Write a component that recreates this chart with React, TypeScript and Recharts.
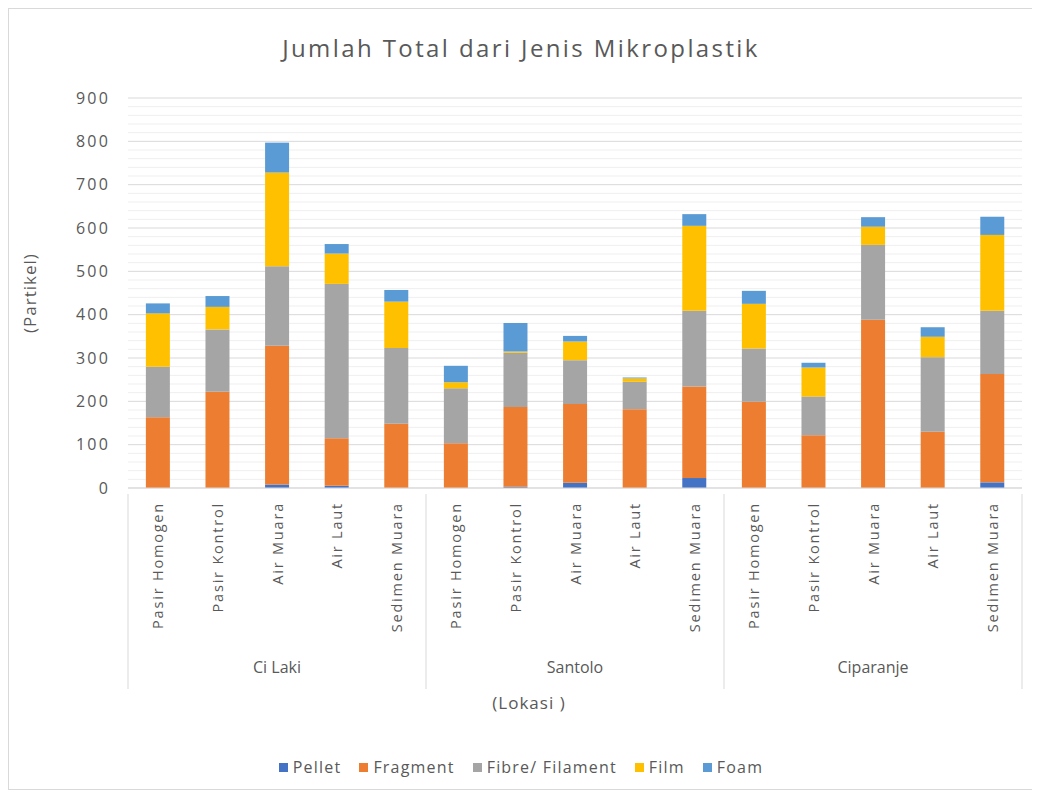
import React from "react";
import { BarChart, Bar, XAxis, YAxis, CartesianGrid } from "recharts";

const groups = ["Ci Laki", "Santolo", "Ciparanje"];
const sites = ["Pasir Homogen", "Pasir Kontrol", "Air Muara", "Air Laut", "Sedimen Muara"];

const pellet = [0, 0, 8, 5, 0, 0, 3, 12, 0, 23, 0, 0, 0, 0, 13];
const fragment = [163, 222, 320, 110, 148, 103, 184, 182, 182, 211, 199, 122, 388, 130, 250];
const fibre = [117, 144, 184, 356, 175, 127, 125, 101, 63, 175, 123, 89, 173, 172, 146];
const film = [123, 52, 216, 70, 107, 14, 3, 43, 8, 196, 103, 67, 42, 47, 175];
const foam = [23, 25, 69, 22, 27, 38, 66, 13, 2, 27, 30, 11, 22, 22, 42];

const yTicks = [0, 100, 200, 300, 400, 500, 600, 700, 800, 900];
const minorLines = [20, 40, 60, 80, 120, 140, 160, 180, 220, 240, 260, 280, 320, 340, 360, 380, 420, 440, 460, 480, 520, 540, 560, 580, 620, 640, 660, 680, 720, 740, 760, 780, 820, 840, 860, 880];

const seriesNames = ["Pellet", "Fragment", "Fibre/ Filament", "Film", "Foam"];
const seriesKeys = ["pellet", "fragment", "fibre", "film", "foam"];
const seriesColors = ["#4472C4", "#ED7D31", "#A5A5A5", "#FFC000", "#5B9BD5"];

const data = groups.flatMap((g, gi) =>
  sites.map((s, si) => {
    const i = gi * sites.length + si;
    return {
      key: `${g}|${s}`,
      site: s,
      group: g,
      pellet: pellet[i],
      fragment: fragment[i],
      fibre: fibre[i],
      film: film[i],
      foam: foam[i],
    };
  })
);

const W = 1024;
const H = 780;
const M = { top: 89, right: 11, left: 0, bottom: 101 };
const Y_W = 119;
const band = (W - M.left - M.right - Y_W) / data.length;
const FONT = "'Open Sans', sans-serif";
const TXT = "#595959";

const XTick = (props: any) => {
  const { x, y, payload, index } = props;
  const row = data[index] || data.find((d) => d.key === payload.value);
  const label = row ? row.site : "";
  return (
    <g>
      <text
        x={x}
        y={y + 8}
        transform={`rotate(-90 ${x} ${y + 8})`}
        textAnchor="end"
        dominantBaseline="central"
        fill={TXT}
        fontSize={14.5}
        letterSpacing={1.8}
        fontFamily={FONT}
      >
        {label}
      </text>
      {index % 5 === 0 && (
        <line x1={x - band / 2} x2={x - band / 2} y1={y} y2={y + 195} stroke="#D9D9D9" strokeWidth={1} />
      )}
      {index === data.length - 1 && (
        <line x1={x + band / 2} x2={x + band / 2} y1={y} y2={y + 195} stroke="#D9D9D9" strokeWidth={1} />
      )}
      {index % 5 === 2 && row && (
        <text x={x} y={y + 173} textAnchor="middle" dominantBaseline="central" fill={TXT} fontSize={16} fontFamily={FONT}>
          {row.group}
        </text>
      )}
    </g>
  );
};

export default function App() {
  return (
    <div
      style={{
        position: "relative",
        width: W,
        height: H,
        border: "1px solid #D9D9D9",
        background: "#fff",
        fontFamily: FONT,
        color: TXT,
      }}
    >
      <div
        style={{
          position: "absolute",
          top: 22,
          left: 0,
          width: W,
          textAlign: "center",
          fontSize: 24,
          letterSpacing: 2.4,
          color: TXT,
        }}
      >
        Jumlah Total dari Jenis Mikroplastik
      </div>
      <BarChart width={W} height={H} data={data} margin={M} barCategoryGap="30%">
        <CartesianGrid horizontalValues={minorLines} vertical={false} stroke="#EFEFEF" />
        <CartesianGrid horizontalValues={yTicks} vertical={false} stroke="#D9D9D9" />
        <YAxis
          width={Y_W}
          domain={[0, 900]}
          ticks={yTicks}
          axisLine={false}
          tickLine={false}
          tickMargin={12}
          tick={{ fill: TXT, fontSize: 16, fontFamily: FONT, letterSpacing: 2.2 }}
          interval={0}
        />
        <XAxis
          dataKey="key"
          interval={0}
          height={200}
          tickLine={false}
          tickMargin={0}
          axisLine={{ stroke: "#D9D9D9" }}
          tick={<XTick />}
        />
        {seriesKeys.map((k, i) => (
          <Bar key={k} dataKey={k} name={seriesNames[i]} stackId="a" fill={seriesColors[i]} isAnimationActive={false} />
        ))}
      </BarChart>
      <div
        style={{
          position: "absolute",
          left: 8,
          top: 682,
          width: W,
          textAlign: "center",
          fontSize: 17,
          letterSpacing: 1,
          color: TXT,
        }}
      >
        (Lokasi )
      </div>
      <div
        style={{
          position: "absolute",
          left: 9,
          top: 284,
          fontSize: 17,
          letterSpacing: 1,
          color: TXT,
          transform: "rotate(-90deg)",
          transformOrigin: "left top",
          whiteSpace: "nowrap",
        }}
      >
        <span style={{ display: "inline-block", transform: "translateX(-50%)" }}>(Partikel)</span>
      </div>
      <div
        style={{
          position: "absolute",
          top: 747,
          left: 0,
          width: W,
          display: "flex",
          justifyContent: "center",
          gap: 18,
          fontSize: 16,
          letterSpacing: 1.2,
          color: TXT,
        }}
      >
        {seriesNames.map((n, i) => (
          <div key={n} style={{ display: "flex", alignItems: "center", gap: 5 }}>
            <span style={{ width: 9, height: 9, background: seriesColors[i], display: "inline-block" }} />
            <span>{n}</span>
          </div>
        ))}
      </div>
    </div>
  );
}
